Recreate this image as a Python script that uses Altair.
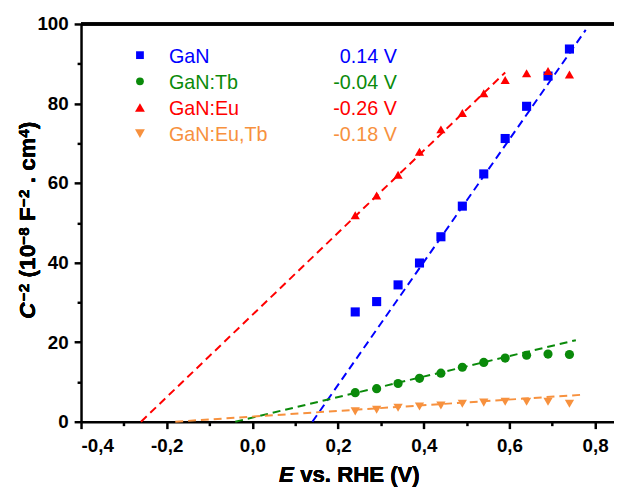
import altair as alt
import pandas as pd

# ---------------- data ----------------
series = ["GaN", "GaN:Tb", "GaN:Eu", "GaN:Eu,Tb"]
onset_labels = ["0.14 V", "-0.04 V", "-0.26 V", "-0.18 V"]
colors = ["#0000FF", "#0A8A0A", "#FF0000", "#F7913E"]
shapes = ["square", "circle", "triangle-up", "triangle-down"]
marker_sizes = [85, 88, 145, 145]

potential = [0.24, 0.29, 0.34, 0.39, 0.44, 0.49, 0.54, 0.59, 0.64, 0.69, 0.74]
gan = [27.6, 30.2, 34.4, 39.9, 46.5, 54.2, 62.3, 71.2, 79.3, 86.9, 93.7]
gan_tb = [7.3, 8.3, 9.6, 10.9, 12.2, 13.7, 14.9, 16.0, 16.7, 17.0, 16.9]
gan_eu = [51.9, 56.9, 62.1, 67.9, 73.5, 77.6, 82.6, 85.9, 87.6, 88.2, 87.3]
gan_eutb = [2.6, 3.0, 3.5, 3.8, 4.1, 4.5, 4.8, 5.0, 5.0, 5.0, 4.5]

# Mott-Schottky fit lines (start / end points)
fit_x0 = [0.14, -0.04, -0.26, -0.18]
fit_y0 = [0.0, 0.0, 0.0, 0.0]
fit_x1 = [0.778, 0.755, 0.59, 0.772]
fit_y1 = [98.5, 20.5, 87.8, 6.8]

x_domain = [-0.4, 0.844]
y_domain = [0, 100]
x_tick_values = [-0.4, -0.3, -0.2, -0.1, 0.0, 0.1, 0.2, 0.3, 0.4, 0.5, 0.6, 0.7, 0.8]
y_tick_values = [0, 10, 20, 30, 40, 50, 60, 70, 80, 90, 100]

# y-axis title pieces: (text, superscript?, italic?)
y_title_parts = [("C", False, True), ("\u22122", True, False), (" ", False, False),
                 ("(10", False, False), ("\u22128", True, False), (" ", False, False),
                 ("F", False, False), ("\u22122", True, False), (" ", False, False),
                 (". cm", False, False), ("4", True, False), (")", False, False)]

# ---------------- tables ----------------
values = [gan, gan_tb, gan_eu, gan_eutb]
rows = []
for s, vals in zip(series, values):
    for e, c in zip(potential, vals):
        rows.append({"series": s, "E": e, "C": c})
points_df = pd.DataFrame(rows)

fits_df = pd.DataFrame({"series": series, "x0": fit_x0, "y0": fit_y0,
                        "x1": fit_x1, "y1": fit_y1})

W, H = 540, 403
FONT = "Liberation Sans"

x_scale = alt.Scale(domain=x_domain, nice=False, zero=False)
y_scale = alt.Scale(domain=y_domain, nice=False, zero=False)
color_scale = alt.Scale(domain=series, range=colors)
shape_scale = alt.Scale(domain=series, range=shapes)
size_scale = alt.Scale(domain=series, range=marker_sizes)

x_axis = alt.Axis(
    values=x_tick_values, title=None, grid=False,
    tickSize={"condition": {"test": "abs(round(datum.value*10)) % 2 === 0", "value": 7}, "value": 4},
    labelExpr="abs(round(datum.value*10)) % 2 === 0 ? (datum.value < -0.001 ? '-' : '') + replace(format(abs(datum.value), '.1f'), '.', ',') : ''",
    labelPadding=8,
)
y_axis = alt.Axis(
    values=y_tick_values, title=None, grid=False,
    tickSize={"condition": {"test": "datum.value % 20 === 0", "value": 7}, "value": 4},
    labelExpr="datum.value % 20 === 0 ? datum.label : ''",
    labelPadding=6,
)

pts = alt.Chart(points_df).mark_point(filled=True, opacity=1).encode(
    x=alt.X("E:Q", scale=x_scale, axis=x_axis),
    y=alt.Y("C:Q", scale=y_scale, axis=y_axis),
    color=alt.Color("series:N", scale=color_scale, legend=None),
    shape=alt.Shape("series:N", scale=shape_scale, legend=None),
    size=alt.Size("series:N", scale=size_scale, legend=None),
)

fits = alt.Chart(fits_df).mark_rule(strokeDash=[8, 5], strokeWidth=2).encode(
    x="x0:Q", y="y0:Q", x2="x1:Q", y2="y1:Q",
    color=alt.Color("series:N", scale=color_scale, legend=None),
)

top_border = alt.Chart(fits_df).mark_rule(color="black", strokeWidth=3).encode(
    x=alt.value(0), x2=alt.value(W), y=alt.value(0)
)

layers = [pts, fits, top_border]

# ---------------- legend (drawn inside the plot) ----------------
leg_y0, leg_dy = 31.6, 26.5
sym_x, lab_x, val_x = 59.7, 89, 320
for i, (s, lab, col, shp) in enumerate(zip(series, onset_labels, colors, shapes)):
    yy = leg_y0 + i * leg_dy
    one = pd.DataFrame({"series": [s], "label": [lab]})
    layers.append(alt.Chart(one).mark_point(filled=True, opacity=1, shape=shp, color=col,
                                            size=62 if i < 2 else 100).encode(
        x=alt.value(sym_x), y=alt.value(yy)))
    layers.append(alt.Chart(one).mark_text(align="left", baseline="middle", font=FONT,
                                           fontSize=20, color=col).encode(
        x=alt.value(lab_x), y=alt.value(yy + 1.5), text="series:N"))
    layers.append(alt.Chart(one).mark_text(align="right", baseline="middle", font=FONT,
                                           fontSize=20, color=col).encode(
        x=alt.value(val_x), y=alt.value(yy + 1.5), text="label:N"))

# ---------------- axis titles (mixed italic / superscripts) ----------------
xt_y = 464.3
XT = 22.5
layers.append(alt.Chart(fits_df).mark_text(text="E", align="left", baseline="alphabetic", font=FONT,
                                           fontSize=XT, fontWeight="bold", fontStyle="italic",
                                           color="black").encode(x=alt.value(200.7), y=alt.value(xt_y)))
layers.append(alt.Chart(fits_df).mark_text(text="vs. RHE (V)", align="left", baseline="alphabetic",
                                           font=FONT, fontSize=XT, fontWeight="bold",
                                           color="black").encode(x=alt.value(222), y=alt.value(xt_y)))

# approximate Arial-bold advance widths (em units) for laying out the rotated title
adv = {"C": .722, "F": .611, "(": .333, ")": .333, ".": .278, " ": .278, "c": .556,
       "m": .889, "\u2212": .584}
MAIN, SUP = 23, 15.5
yt_x = -47          # baseline of main text (plot coords)
pos = 299.0         # start (bottom) of title in plot coords
for txt, sup, ital in y_title_parts:
    size = SUP if sup else MAIN
    width = sum(adv.get(ch, .556) for ch in txt) * size + (1.5 if ital else 0)
    if txt.strip():
        props = dict(text=txt.lstrip(), angle=270, align="left", baseline="alphabetic",
                     font=FONT, fontSize=size, fontWeight="bold", color="black")
        if ital:
            props["fontStyle"] = "italic"
        lead = (len(txt) - len(txt.lstrip())) * adv[" "] * size
        layers.append(alt.Chart(fits_df).mark_text(**props).encode(
            x=alt.value(yt_x - (6 if sup else 0)), y=alt.value(pos - lead)))
    pos -= width

chart = alt.layer(*layers).properties(
    width=W, height=H,
    autosize=alt.AutoSizeParams(type="none"),
    padding={"left": 74, "top": 13, "right": 0, "bottom": 65},
    background="white",
).configure_view(stroke=None).configure_axis(
    domainColor="black", domainWidth=2.5, tickColor="black", tickWidth=2.5,
    labelFont=FONT, labelFontWeight="bold", labelFontSize=19, labelColor="black",
)

chart.save("out.html", embed_options={"renderer": "svg", "actions": False})
